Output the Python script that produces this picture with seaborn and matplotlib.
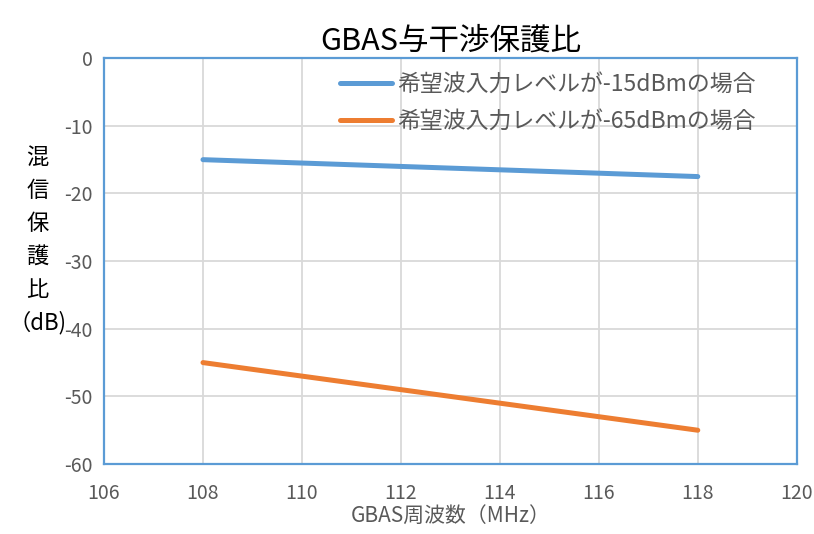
import numpy as np
import pandas as pd
import matplotlib
matplotlib.use('Agg')
import matplotlib.pyplot as plt
import seaborn as sns

# data
freq = [108, 118]
ratio_15 = [-15, -17.5]
ratio_65 = [-45, -55]
series_names = ['希望波入力レベルが-15dBmの場合', '希望波入力レベルが-65dBmの場合']
x_ticks = [106, 108, 110, 112, 114, 116, 118, 120]
y_ticks = [0, -10, -20, -30, -40, -50, -60]

df = pd.DataFrame({
    'freq': freq + freq,
    'ratio': ratio_15 + ratio_65,
    'series': [series_names[0]] * len(freq) + [series_names[1]] * len(freq),
})

sns.set_style('white')
plt.rcParams['font.family'] = ['Noto Sans CJK JP', 'DejaVu Sans']
plt.rcParams['axes.unicode_minus'] = False

fig = plt.figure(figsize=(8.14, 5.34), dpi=100)
ax = fig.add_axes([0.1278, 0.131, 0.851, 0.760])

sns.lineplot(data=df, x='freq', y='ratio', hue='series', palette=['#5B9BD5', '#ED7D31'],
             linewidth=3.6, ax=ax, solid_capstyle='round')

ax.set_xlim(106, 120)
ax.set_ylim(-60, 0)
ax.set_xticks(x_ticks)
ax.set_yticks(y_ticks)
ax.set_xticklabels([str(v) for v in x_ticks], fontsize=14, color='#595959')
ax.set_yticklabels([str(v) for v in y_ticks], fontsize=14, color='#595959')
ax.tick_params(axis='x', length=0, pad=14)
ax.tick_params(axis='y', length=0, pad=8)
ax.grid(True, color='#D9D9D9', linewidth=1.3)
for sp in ax.spines.values():
    sp.set_color('#5B9BD5')
    sp.set_linewidth(1.6)

ax.set_xlabel('GBAS周波数（MHz）', fontsize=15, color='#595959', labelpad=0)
ax.set_ylabel('')
ax.set_title('GBAS与干渉保護比', fontsize=22, color='black', pad=6)

fig.text(0.046, 0.55, '混\n信\n保\n護\n比\n（dB)', fontsize=16, ha='center', va='center',
         linespacing=1.55, color='black')

leg = ax.legend(loc='upper right', bbox_to_anchor=(0.97, 1.015), frameon=False, fontsize=16.5,
                handlelength=2.3, handletextpad=0.2, labelspacing=0.62)
for t in leg.get_texts():
    t.set_color('#595959')

fig.savefig('out.png', dpi=100)
